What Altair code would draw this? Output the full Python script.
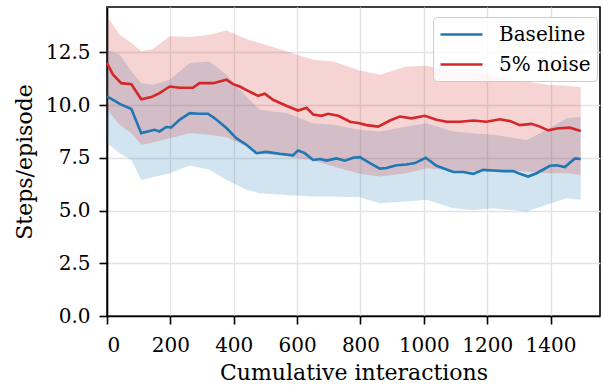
import altair as alt
import pandas as pd

# Mean lines
base_x = [0, 19, 40, 77, 108, 150, 166, 187, 203, 229, 261, 292, 319, 340, 377, 408, 440, 472, 503, 545, 587, 603, 624, 651, 672, 693, 724, 751, 777, 798, 830, 861, 882, 914, 945, 972, 1006, 1040, 1093, 1124, 1156, 1187, 1219, 1251, 1282, 1303, 1329, 1356, 1398, 1419, 1445, 1477, 1495]
base_y = [10.41, 10.25, 10.06, 9.81, 8.67, 8.83, 8.75, 8.96, 8.94, 9.30, 9.62, 9.59, 9.59, 9.37, 8.91, 8.43, 8.12, 7.72, 7.78, 7.69, 7.62, 7.85, 7.72, 7.40, 7.44, 7.37, 7.47, 7.36, 7.50, 7.53, 7.25, 6.99, 7.02, 7.15, 7.18, 7.25, 7.50, 7.12, 6.83, 6.83, 6.74, 6.93, 6.90, 6.87, 6.87, 6.74, 6.61, 6.77, 7.12, 7.15, 7.06, 7.47, 7.44]

noise_x = [0, 19, 45, 77, 108, 140, 166, 198, 229, 271, 292, 335, 377, 398, 419, 451, 477, 498, 524, 566, 603, 630, 651, 677, 698, 730, 767, 797, 819, 856, 893, 924, 961, 1003, 1040, 1072, 1114, 1156, 1198, 1240, 1272, 1303, 1340, 1366, 1393, 1419, 1461, 1495]
noise_y = [11.99, 11.44, 11.04, 10.99, 10.28, 10.38, 10.57, 10.88, 10.82, 10.82, 11.04, 11.04, 11.20, 10.99, 10.88, 10.63, 10.44, 10.54, 10.25, 9.97, 9.74, 9.87, 9.55, 9.49, 9.59, 9.49, 9.21, 9.14, 9.05, 8.98, 9.27, 9.46, 9.37, 9.49, 9.30, 9.21, 9.21, 9.27, 9.21, 9.33, 9.24, 9.05, 9.11, 8.98, 8.80, 8.89, 8.93, 8.77]

# Shaded bands
band_x = [0, 40, 77, 108, 145, 198, 261, 324, 377, 440, 482, 566, 651, 714, 798, 861, 945, 1009, 1093, 1156, 1219, 1324, 1388, 1451, 1495]
base_hi = [12.62, 12.39, 11.60, 11.04, 10.96, 11.20, 11.99, 12.07, 11.44, 10.41, 9.78, 9.62, 9.14, 9.07, 8.83, 8.75, 8.99, 9.14, 8.75, 8.67, 8.59, 8.35, 8.83, 9.38, 9.43]
base_lo = [8.19, 7.72, 7.40, 6.45, 6.58, 6.77, 7.13, 6.93, 6.45, 5.98, 5.82, 5.74, 5.66, 5.66, 5.63, 5.35, 5.43, 5.51, 5.11, 5.03, 5.11, 4.95, 5.27, 5.58, 5.51]
noise_hi = [14.21, 13.34, 12.94, 12.55, 12.66, 13.26, 13.23, 13.34, 13.54, 13.13, 12.94, 12.55, 12.15, 12.07, 11.64, 11.44, 11.83, 11.87, 11.60, 11.55, 11.39, 11.12, 10.96, 10.92, 10.85]
noise_lo = [9.78, 9.07, 8.67, 8.12, 8.23, 8.43, 8.67, 8.59, 8.48, 8.04, 7.72, 7.56, 7.37, 7.09, 6.74, 6.61, 6.77, 7.01, 6.90, 6.85, 6.85, 6.85, 6.77, 6.77, 6.69]

series = ["Baseline", "5% noise"]
colors = ["#1f77b4", "#d62728"]
y_ticks = [0, 2.5, 5, 7.5, 10, 12.5]
x_ticks = [0, 200, 400, 600, 800, 1000, 1200, 1400]

lines = pd.concat([
    pd.DataFrame({"x": base_x, "y": base_y, "s": series[0]}),
    pd.DataFrame({"x": noise_x, "y": noise_y, "s": series[1]}),
])
bands = pd.concat([
    pd.DataFrame({"x": band_x, "lo": base_lo, "hi": base_hi, "s": series[0]}),
    pd.DataFrame({"x": band_x, "lo": noise_lo, "hi": noise_hi, "s": series[1]}),
])

FONT = "DejaVu Serif"
xs = alt.Scale(domain=[0, 1556], nice=False, zero=False)
ys = alt.Scale(domain=[0, 14.65], nice=False, zero=False)
cs = alt.Scale(domain=series, range=colors)

xax = alt.Axis(values=x_ticks, title="Cumulative interactions", format="d",
               grid=True, ticks=True, tickSize=8, labelPadding=11, titlePadding=7)
yax = alt.Axis(values=y_ticks, title="Steps/episode", format=".1f",
               grid=True, ticks=True, tickSize=8, labelPadding=9, titleX=-83,
               titleBaseline="middle")

leg = alt.Legend(
    title=None, orient="none", legendX=326, legendY=10,
    symbolType="M-1,0H3.2", symbolSize=400, symbolStrokeWidth=2.6,
    labelFontSize=20, labelFont=FONT, labelColor="black",
    fillColor="rgba(255,255,255,0.8)", strokeColor="#cccccc",
    cornerRadius=4, padding=6, rowPadding=8, labelOffset=37,
    symbolOpacity=1, labelLimit=300,
)

band = alt.Chart(bands).mark_area(opacity=0.2).encode(
    x=alt.X("x:Q", scale=xs, axis=xax),
    y=alt.Y("lo:Q", scale=ys, axis=yax),
    y2="hi:Q",
    color=alt.Color("s:N", scale=cs, sort=series, legend=leg),
    detail="s:N",
)

line = alt.Chart(lines).mark_line(strokeWidth=2.6).encode(
    x=alt.X("x:Q", scale=xs),
    y=alt.Y("y:Q", scale=ys),
    color=alt.Color("s:N", scale=cs, sort=series, legend=leg),
)

chart = (band + line).properties(
    width=493, height=309,
    autosize=alt.AutoSizeParams(type="none"),
    padding={"left": 107, "top": 7, "right": 3, "bottom": 70},
).configure(
    font=FONT,
    style={"guide-label": {"font": FONT, "fontSize": 20, "fill": "black"}},
).configure_view(stroke="black", strokeWidth=1.6).configure_axis(
    labelFont=FONT, titleFont=FONT, labelFontSize=20, titleFontSize=22,
    labelColor="black", titleColor="black", titleFontWeight="normal",
    domainColor="black", domainWidth=1.6, tickColor="black", tickWidth=1.6,
    gridColor="#e3e3e3", gridWidth=1.3,
).configure_legend(labelFont=FONT, labelFontSize=20, labelColor="black")

chart.save("out.html", embed_options={"renderer": "svg", "actions": False})
